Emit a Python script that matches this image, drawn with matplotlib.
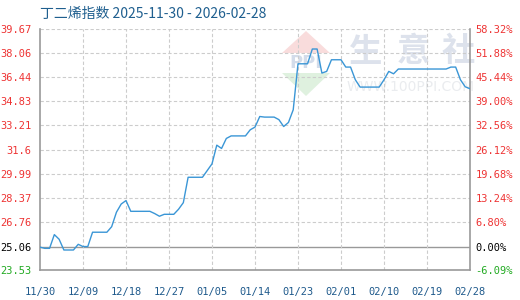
import matplotlib
matplotlib.use("Agg")
import matplotlib.pyplot as plt
from matplotlib.patches import Polygon
import numpy as np

title = "丁二烯指数 2025-11-30 - 2026-02-28"
x_labels = ["11/30", "12/09", "12/18", "12/27", "01/05", "01/14", "01/23", "02/01", "02/10", "02/19", "02/28"]
y_ticks = [23.53, 25.06, 26.76, 28.37, 29.99, 31.6, 33.21, 34.83, 36.44, 38.06, 39.67]
right_labels = ["-6.09%", "0.00%", "6.80%", "13.24%", "19.68%", "26.12%", "32.56%", "39.00%", "45.44%", "51.88%", "58.32%"]
base_value = 25.06

values = [
    25.06, 24.98, 24.98, 25.90, 25.59, 24.87, 24.87, 24.87, 25.25, 25.10,
    25.10, 26.06, 26.06, 26.06, 26.06, 26.43, 27.40, 27.95, 28.18, 27.46,
    27.46, 27.46, 27.46, 27.46, 27.31, 27.13, 27.26, 27.26, 27.26, 27.60,
    28.04, 29.74, 29.74, 29.74, 29.74, 30.19, 30.64, 31.89, 31.67, 32.34,
    32.51, 32.51, 32.51, 32.51, 32.92, 33.10, 33.81, 33.77, 33.77, 33.77,
    33.60, 33.14, 33.41, 34.26, 37.34, 37.34, 37.34, 38.33, 38.33, 36.72,
    36.83, 37.61, 37.61, 37.61, 37.12, 37.12, 36.27, 35.78, 35.78, 35.78,
    35.78, 35.78, 36.27, 36.83, 36.67, 36.99, 36.99, 36.99, 36.99, 36.99,
    36.99, 36.99, 36.99, 36.99, 36.99, 36.99, 37.12, 37.12, 36.27, 35.80,
    35.67,
]
days = np.arange(len(values))

W, H = 520, 300
fig = plt.figure(figsize=(5.2, 3.0), dpi=100)
ax = fig.add_axes([40/W, 30/H, 430/W, 241/H])

def fx(px):
    return px / W

def fy(py):
    return 1 - py / H

ymin, ymax = y_ticks[0], y_ticks[-1]
ax.set_xlim(0, 90)
ax.set_ylim(ymin, ymax)

# grid
for yt in y_ticks[1:]:
    if abs(yt - base_value) < 1e-6:
        ax.axhline(yt, color="#999999", lw=1.0, zorder=1)
    else:
        ax.axhline(yt, color="#cccccc", lw=0.8, ls=(0, (3, 2)), zorder=1)
for i in range(1, len(x_labels) - 1):
    ax.axvline(i * 9, color="#cccccc", lw=0.8, ls=(0, (3, 2)), zorder=1)

# watermark logo (drawn behind the axes)
pink = Polygon([(fx(306), fy(31)), (fx(282), fy(53)), (fx(330), fy(53))], closed=True,
               transform=fig.transFigure, facecolor="#f9dcdc", edgecolor="none", zorder=-2)
green = Polygon([(fx(282), fy(73)), (fx(330), fy(73)), (fx(306), fy(96))], closed=True,
                transform=fig.transFigure, facecolor="#dff1df", edgecolor="none", zorder=-2)
fig.patches.extend([pink, green])
fig.text(fx(306), fy(63), "PPI", ha="center", va="center", fontsize=13, fontweight="bold",
         color="#d3dcea", family=["DejaVu Sans"], zorder=-1)
for ch, cx in zip("生意社", [366, 413, 458]):
    fig.text(fx(cx), fy(52), ch, ha="center", va="center", fontsize=24, fontweight="bold",
             color="#dde2ec", family=["Noto Sans CJK SC"], zorder=-1)
fig.text(fx(411), fy(87), "WWW.100PPI.COM", ha="center", va="center", fontsize=10,
         color="#eaecef", family=["DejaVu Sans"], zorder=-1)

ax.patch.set_alpha(0)
ax.plot(days, values, color="#3a96d6", lw=1.0, zorder=3)

for s in ["left", "right", "bottom"]:
    ax.spines[s].set_color("#999999")
    ax.spines[s].set_linewidth(1.2)
ax.spines["top"].set_visible(False)

mono = "DejaVu Sans Mono"
ax.set_xticks([i * 9 for i in range(len(x_labels))])
ax.set_xticklabels(x_labels, fontsize=7.5, family=mono, color="#1f5a8c")
ax.tick_params(axis="x", length=0, pad=12)

def lab_color(v):
    if abs(v - base_value) < 1e-6:
        return "#000000"
    return "#22aa22" if v < base_value else "#ee3333"

ax.set_yticks(y_ticks)
ax.set_yticklabels([f"{v:g}" if v == 31.6 else f"{v:.2f}" for v in y_ticks], fontsize=7.5, family=mono)
for t, v in zip(ax.get_yticklabels(), y_ticks):
    t.set_color(lab_color(v))
ax.tick_params(axis="y", length=0, pad=6)

ax2 = ax.twinx()
ax2.patch.set_alpha(0)
ax2.set_ylim(ymin, ymax)
ax2.set_yticks(y_ticks)
ax2.set_yticklabels(right_labels, fontsize=7.5, family=mono)
for t, v in zip(ax2.get_yticklabels(), y_ticks):
    t.set_color(lab_color(v))
ax2.tick_params(axis="y", length=0, pad=4)
for s in ax2.spines.values():
    s.set_visible(False)

fig.text(40/W, 1 - 14/H, title, fontsize=10, color="#1f5f8f", va="center", ha="left",
         family=["Noto Sans CJK SC", "DejaVu Sans"])

fig.savefig("out.png", dpi=100)
